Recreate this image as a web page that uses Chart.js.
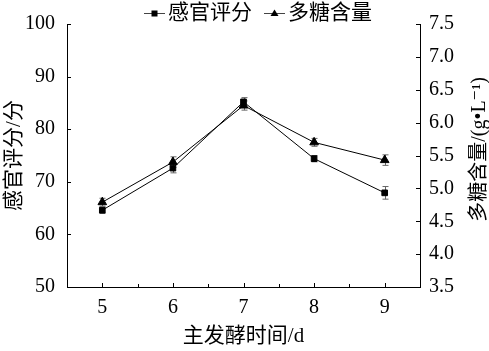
<!DOCTYPE html>
<html>
<head>
<meta charset="utf-8">
<script src="https://cdn.jsdelivr.net/npm/chart.js@4/dist/chart.umd.min.js"></script>
<style>
  html, body { margin: 0; padding: 0; background: #fff; }
  #wrap { width: 489px; height: 351px; }
  #probe { position: absolute; left: -999px; font-family: 'Liberation Serif'; }
</style>
</head>
<body>
<div id="wrap"><canvas id="myChart" width="489" height="351"></canvas></div>
<span id="probe">0123456789</span>
<script>
// data arrays
const days = [5, 6, 7, 8, 9];
const sensoryScore = [64.6, 72.6, 85.2, 74.4, 67.9];
const sensoryErr = [0.6, 0.9, 0.8, 0.6, 1.2];
const polysaccharide = [4.79, 5.40, 6.26, 5.70, 5.43];
const polyErr = [0.06, 0.08, 0.07, 0.06, 0.08];

const leftTicks = [50, 60, 70, 80, 90, 100];
const rightTicks = [3.5, 4.0, 4.5, 5.0, 5.5, 6.0, 6.5, 7.0, 7.5];

const seriesNames = ["感官评分", "多糖含量"];
const xTitle = "主发酵时间/d";
const leftTitle = "感官评分/分";
const rightTitle = "多糖含量/(g•L⁻¹)";

const FONT = "'Liberation Serif', 'Times New Roman', Times, 'DejaVu Serif', 'Noto Sans CJK SC', serif";

const toPoints = (vals) => days.map((d, i) => ({ x: d, y: vals[i] }));

// error bars drawn through the scales
const errorBars = {
  id: 'errorBars',
  beforeDatasetsDraw(chart) {
    const ctx = chart.ctx;
    const errs = [sensoryErr, polyErr];
    chart.data.datasets.forEach((ds, k) => {
      const ys = chart.scales[ds.yAxisID];
      const xs = chart.scales.x;
      ctx.save();
      ctx.strokeStyle = '#666';
      ctx.lineWidth = 1;
      ds.data.forEach((p, i) => {
        const px = Math.round(xs.getPixelForValue(p.x)) + 0.5;
        const top = ys.getPixelForValue(p.y + errs[k][i]);
        const bot = ys.getPixelForValue(p.y - errs[k][i]);
        ctx.beginPath();
        ctx.moveTo(px, top); ctx.lineTo(px, bot);
        ctx.moveTo(px - 3, top); ctx.lineTo(px + 3, top);
        ctx.moveTo(px - 3, bot); ctx.lineTo(px + 3, bot);
        ctx.stroke();
      });
      ctx.restore();
    });
  }
};

// inward ticks, legend and right title
const decorations = {
  id: 'decorations',
  afterDraw(chart) {
    const ctx = chart.ctx;
    const { x, y, y2 } = chart.scales;
    const area = chart.chartArea;
    ctx.save();
    ctx.strokeStyle = '#000';
    ctx.lineWidth = 1;
    ctx.beginPath();
    x.ticks.forEach(t => {
      const px = Math.round(x.getPixelForValue(t.value)) + 0.5;
      const len = Number.isInteger(t.value) ? 4 : 3;
      ctx.moveTo(px, area.bottom); ctx.lineTo(px, area.bottom - len);
    });
    y.ticks.forEach(t => {
      const py = Math.round(y.getPixelForValue(t.value)) + 0.5;
      const len = t.value % 10 === 0 ? 4 : 3;
      ctx.moveTo(area.left, py); ctx.lineTo(area.left + len, py);
    });
    y2.ticks.forEach(t => {
      const py = Math.round(y2.getPixelForValue(t.value)) + 0.5;
      ctx.moveTo(area.right, py); ctx.lineTo(area.right - 4, py);
    });
    ctx.stroke();

    // legend
    ctx.font = "21px " + FONT;
    ctx.fillStyle = '#000';
    ctx.textBaseline = 'middle';
    const ly = 13;
    const items = [
      { x0: 144, style: 'rect' },
      { x0: 264, style: 'triangle' }
    ];
    items.forEach((it, k) => {
      ctx.strokeStyle = '#444';
      ctx.beginPath();
      ctx.moveTo(it.x0, ly + 0.5); ctx.lineTo(it.x0 + 21, ly + 0.5);
      ctx.stroke();
      const cx = it.x0 + 10.5;
      ctx.fillStyle = '#000';
      if (it.style === 'rect') {
        ctx.fillRect(cx - 3, ly - 2.5, 6, 6);
      } else {
        ctx.beginPath();
        ctx.moveTo(cx, ly - 3.5); ctx.lineTo(cx + 4, ly + 3); ctx.lineTo(cx - 4, ly + 3);
        ctx.closePath(); ctx.fill();
      }
      ctx.fillText(seriesNames[k], it.x0 + 24, ly);
    });

    // right axis title, reading bottom to top
    ctx.translate(480, (area.top + area.bottom) / 2 - 6);
    ctx.rotate(-Math.PI / 2);
    ctx.textAlign = 'center';
    ctx.font = "20px " + FONT;
    ctx.fillText(rightTitle, 0, 0);
    ctx.restore();
  }
};

const buildChart = () => {
  const ctx = document.getElementById('myChart').getContext('2d');
  return new Chart(ctx, {
    type: 'line',
    data: {
      datasets: [
        {
          label: seriesNames[0],
          data: toPoints(sensoryScore),
          yAxisID: 'y',
          borderColor: '#000',
          backgroundColor: '#000',
          borderWidth: 1,
          pointStyle: 'rect',
          pointRadius: 4,
          pointHoverRadius: 4
        },
        {
          label: seriesNames[1],
          data: toPoints(polysaccharide),
          yAxisID: 'y2',
          borderColor: '#000',
          backgroundColor: '#000',
          borderWidth: 1,
          pointStyle: 'triangle',
          pointRadius: 5,
          pointHoverRadius: 5
        }
      ]
    },
    options: {
      responsive: false,
      animation: false,
      layout: { padding: { top: 12 } },
      plugins: {
        legend: { display: false },
        tooltip: { enabled: false }
      },
      scales: {
        x: {
          type: 'linear',
          min: 4.5,
          max: 9.5,
          grid: { display: false, drawTicks: false },
          border: { display: true, color: '#000', width: 1 },
          ticks: {
            stepSize: 0.5,
            padding: 9,
            color: '#000',
            font: { family: FONT, size: 20 },
            callback: v => Number.isInteger(v) && days.includes(v) ? String(v) : ''
          },
          title: {
            display: true,
            text: xTitle,
            color: '#000',
            font: { family: FONT, size: 21 },
            padding: { top: 0, bottom: 2 }
          },
          afterFit: s => { s.height = 64; }
        },
        y: {
          position: 'left',
          min: 50,
          max: 100,
          grid: { display: false, drawTicks: false },
          border: { display: true, color: '#000', width: 1 },
          ticks: {
            stepSize: 5,
            padding: 12,
            color: '#000',
            font: { family: FONT, size: 20 },
            callback: v => leftTicks.includes(v) ? String(v) : ''
          },
          title: {
            display: true,
            text: leftTitle,
            color: '#000',
            font: { family: FONT, size: 21 },
            padding: { top: 2, bottom: 0 }
          },
          afterFit: s => { s.width = 67; }
        },
        y2: {
          position: 'right',
          min: 3.5,
          max: 7.5,
          grid: { display: false, drawTicks: false },
          border: { display: true, color: '#000', width: 1 },
          ticks: {
            stepSize: 0.25,
            padding: 9,
            color: '#000',
            font: { family: FONT, size: 20 },
            callback: v => rightTicks.some(t => Math.abs(t - v) < 1e-6) ? v.toFixed(1) : ''
          },
          afterFit: s => { s.width = 69; }
        }
      }
    },
    plugins: [errorBars, decorations]
  });
};

document.fonts.load("20px 'Liberation Serif'").then(buildChart, buildChart);
</script>
</body>
</html>
